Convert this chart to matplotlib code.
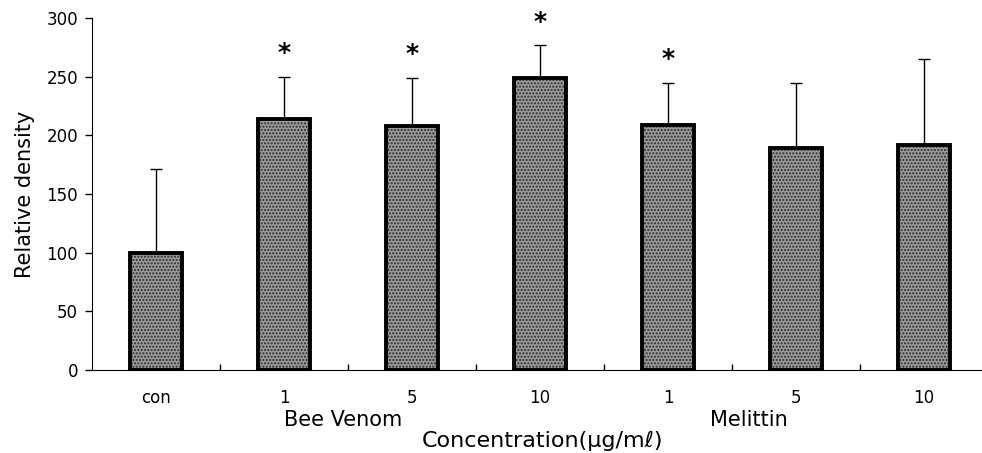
import matplotlib.pyplot as plt
import numpy as np

# relative density per treatment (con, bee venom 1/5/10, melittin 1/5/10 ug/ml)
labels = ['con', '1', '5', '10', '1', '5', '10']
density = [100, 214, 208, 249, 209, 189, 192]
sd = [71, 36, 41, 28, 36, 56, 73]
signif = [False, True, True, True, True, False, False]

plt.rcParams['font.family'] = ['DejaVu Sans']

fig = plt.figure(figsize=(9.82, 4.53), dpi=100)
ax = fig.add_axes([92 / 982, 1 - 370 / 453, 896 / 982, 352 / 453])

x = np.arange(len(density))
# grainy grey fill, then a heavy black outline on top
ax.bar(x, density, width=0.4, color='#9a9a9a', edgecolor='#2a2a2a', linewidth=0,
       hatch='.....', zorder=2)
ax.bar(x, density, width=0.4, color='none', edgecolor='black', linewidth=2.8, zorder=3)
ax.errorbar(x, density, yerr=[np.zeros(len(sd)), sd], fmt='none', ecolor='black',
            elinewidth=1, capsize=4.5, capthick=1, zorder=1)

for i in range(len(density)):
    if signif[i]:
        ax.text(x[i], density[i] + sd[i] + 20, '*', ha='center', va='center',
                fontsize=18, fontweight='bold')

ax.set_xlim(-0.5, 6.5)
ax.set_ylim(0, 300)
ax.set_yticks(range(0, 301, 50))
ax.set_xticks(x)
ax.set_xticklabels(labels, fontsize=12)
ax.set_xticks(x[:-1] + 0.5, minor=True)
ax.tick_params(axis='x', which='major', length=0, pad=14)
ax.tick_params(axis='x', which='minor', direction='in', length=4, width=1)
ax.tick_params(axis='y', direction='out', length=5, width=1, labelsize=12, pad=5)

for side in ['top', 'right']:
    ax.spines[side].set_visible(False)

ax.set_ylabel('Relative density', fontsize=15, labelpad=8)

ax.text(1, -0.142, 'Bee Venom', transform=ax.get_xaxis_transform(), ha='left',
        va='center', fontsize=15)
ax.text(4.33, -0.142, 'Melittin', transform=ax.get_xaxis_transform(), ha='left',
        va='center', fontsize=15)
ax.text(3.02, -0.202, 'Concentration(μg/mℓ)', transform=ax.get_xaxis_transform(),
        ha='center', va='center', fontsize=16)

fig.savefig('out.png', dpi=100)
